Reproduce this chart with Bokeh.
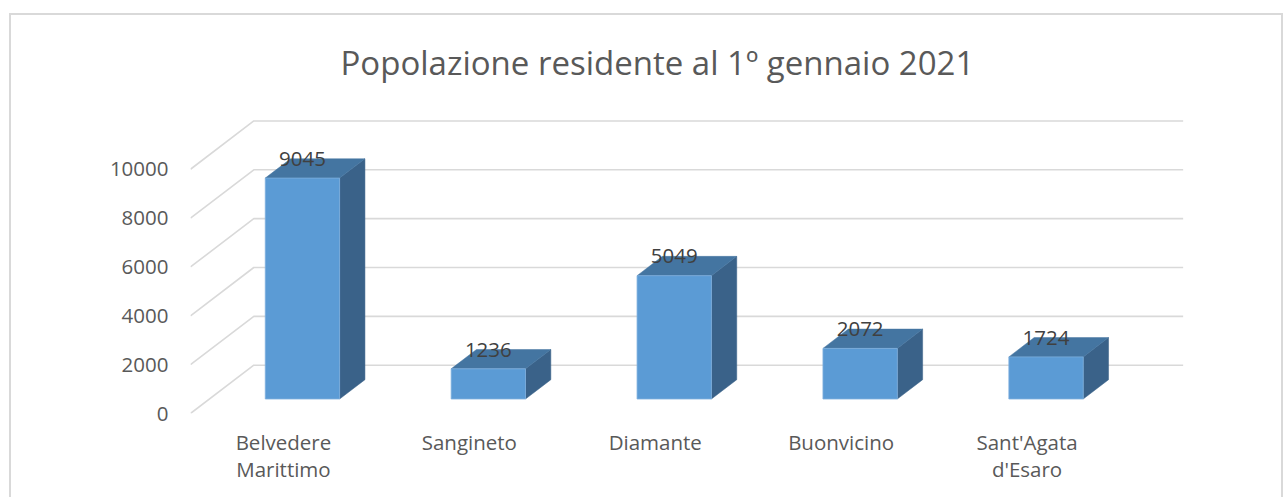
from bokeh.plotting import figure
from bokeh.models import Range1d, FixedTicker, ColumnDataSource
from bokeh.core.properties import value
from bokeh.embed import file_html
from bokeh.resources import INLINE

# ---------------- data ----------------
categories = ["Belvedere\nMarittimo", "Sangineto", "Diamante", "Buonvicino", "Sant'Agata\nd'Esaro"]
population = [9045, 1236, 5049, 2072, 1724]
y_ticks = [0, 2000, 4000, 6000, 8000, 10000]
title_text = "Popolazione residente al 1º gennaio 2021"

# ---------------- layout / style ----------------
W, H = 1285, 497
LEFT, RIGHT, TOP, BOTTOM = 190, 102, 100, 84
FRAME_W = W - LEFT - RIGHT
FRAME_H = H - TOP - BOTTOM
PX_PER_CAT = 185.9            # pixels per category slot
PX_PER_VAL = 48.85 / 2000.0   # pixels per population unit
DX = 63.3 / PX_PER_CAT        # 3D depth offset (x, category units)
DY = 48.3 / PX_PER_VAL        # 3D depth offset (y, value units)
BAR_W = 0.4
F1, F2 = 0.3, 0.7             # bar depth position inside the floor

FONT = "Open Sans"
FRONT = "#5B9BD5"
TOPC = "#4475A1"
SIDE = "#3A6289"
GRID = "#D9D9D9"
TXT = "#595959"

n = len(categories)

p = figure(frame_width=FRAME_W, frame_height=FRAME_H, output_backend="svg", toolbar_location=None,
           x_range=Range1d(0, FRAME_W / PX_PER_CAT), y_range=Range1d(0, FRAME_H / PX_PER_VAL),
           min_border_left=LEFT, min_border_right=RIGHT, min_border_top=TOP, min_border_bottom=BOTTOM,
           title=title_text)
p.outline_line_color = None
p.grid.visible = False
p.background_fill_color = "white"
p.border_fill_color = None
g = "linear-gradient(#D9D9D9,#D9D9D9)"
p.styles = {
    "background-color": "white",
    "background-image": f"{g}, {g}, {g}",
    "background-size": "1274px 2px, 2px 500px, 2px 500px",
    "background-position": "9px 13px, 9px 13px, 1281px 13px",
    "background-repeat": "no-repeat",
}

# title
p.title.align = "left"
p.title.offset = 150
p.title.standoff = 32
p.title.text_font = FONT
p.title.text_font_size = "33px"
p.title.text_font_style = "normal"
p.title.text_color = TXT

# gridlines (front-left slant + back wall)
gx = [[0, DX, n + DX] for t in y_ticks]
gy = [[t, t + DY, t + DY] for t in y_ticks]
p.multi_line(xs=gx, ys=gy, line_color=GRID, line_width=1.6)

# bars
centers = [i + 0.5 for i in range(n)]
lefts = [c - BAR_W / 2 + F1 * DX for c in centers]
rights = [c + BAR_W / 2 + F1 * DX for c in centers]
dd = (F2 - F1) * DX

side_xs = [[r, r + dd, r + dd, r] for r in rights]
side_ys = [[F1 * DY, F2 * DY, v + F2 * DY, v + F1 * DY] for v in population]
p.patches(side_xs, side_ys, fill_color=SIDE, line_color=SIDE, line_width=0.5)

top_xs = [[l, r, r + dd, l + dd] for l, r in zip(lefts, rights)]
top_ys = [[v + F1 * DY, v + F1 * DY, v + F2 * DY, v + F2 * DY] for v in population]
p.patches(top_xs, top_ys, fill_color=TOPC, line_color=TOPC, line_width=0.5)

p.quad(left=lefts, right=rights, bottom=[F1 * DY] * n, top=[v + F1 * DY for v in population],
       fill_color=FRONT, line_color="#7FB0DE", line_width=0.8)

# data labels
lab = ColumnDataSource(dict(x=[c + F1 * DX for c in centers],
                            y=[v + F2 * DY for v in population],
                            t=[str(v) for v in population]))
p.text(x="x", y="y", text="t", source=lab, text_align="center", text_baseline="alphabetic",
       text_font=value(FONT), text_font_size=value("20.5px"), text_color="#404040")

# axes
p.xaxis.ticker = FixedTicker(ticks=centers)
p.xaxis.major_label_overrides = {c: lbl for c, lbl in zip(centers, categories)}
p.yaxis.ticker = FixedTicker(ticks=y_ticks)
p.yaxis.major_label_overrides = {t: str(t) for t in y_ticks}
for ax in (p.xaxis[0], p.yaxis[0]):
    ax.axis_line_color = None
    ax.major_tick_line_color = None
    ax.minor_tick_line_color = None
    ax.major_tick_out = 0
    ax.major_tick_in = 0
    ax.major_label_text_font = FONT
    ax.major_label_text_font_size = "20.5px"
    ax.major_label_text_color = TXT
p.xaxis.major_label_standoff = 14
p.xaxis.major_label_text_line_height = 0.97
p.yaxis.major_label_standoff = 22

open("out.html", "w").write(file_html(p, INLINE))
